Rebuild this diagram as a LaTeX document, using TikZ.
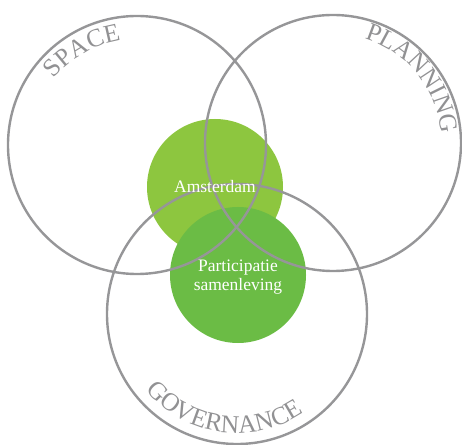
\documentclass[tikz,border=0pt]{standalone}
\usepackage{fontspec}
\setmainfont{Liberation Serif}
\usetikzlibrary{decorations.text}
\definecolor{ringgray}{RGB}{150,150,152}
\definecolor{labelgray}{RGB}{145,145,147}
\definecolor{cityGreen}{RGB}{141,198,63}
\definecolor{partGreen}{RGB}{107,188,69}
\newcommand{\arcfont}{\fontsize{25.5}{25.5}\selectfont}

\begin{document}
\begin{tikzpicture}[x=1pt,y=1pt]
\tikzstyle{ring} = [circle, draw=ringgray, line width=2.4pt, inner sep=0pt]
\tikzstyle{blob} = [circle, inner sep=0pt, minimum size=136pt]
\tikzstyle{blobtext} = [text=white, align=center, font=\fontsize{17.5}{19.5}\selectfont]
\tikzstyle{arclabel} = [decorate, decoration={text along path, text align=center, text color=labelgray}]
\useasboundingbox (0,0) rectangle (462,444);
% green circles
\node (city) [blob, fill=cityGreen] at (215,257) {};
\node (part) [blob, fill=partGreen] at (238,169) {};
% the three rings
\node (space) [ring, minimum size=258pt] at (137,299) {};
\node (plan) [ring, minimum size=256pt] at (333,301) {};
\node (gov) [ring, minimum size=260pt] at (237,130) {};
% labels
\node (citylabel) [blobtext] at (city) {Amsterdam};
\node (partlabel) [blobtext, yshift=-2pt] at (part) {Participatie\\samenleving};
\path [arclabel, decoration={text={|\arcfont|SPACE}}] (space.center) ++(164:106) arc[start angle=164, end angle=76, radius=106];
\path [arclabel, decoration={text={|\arcfont|PLANNING}}] (plan.center) ++(84:109) arc[start angle=84, end angle=-6, radius=109];
\path [arclabel, decoration={text={|\arcfont|GOVERNANCE}}] (gov.center) ++(192:119) arc[start angle=192, end angle=332, radius=119];
\end{tikzpicture}
\end{document}
